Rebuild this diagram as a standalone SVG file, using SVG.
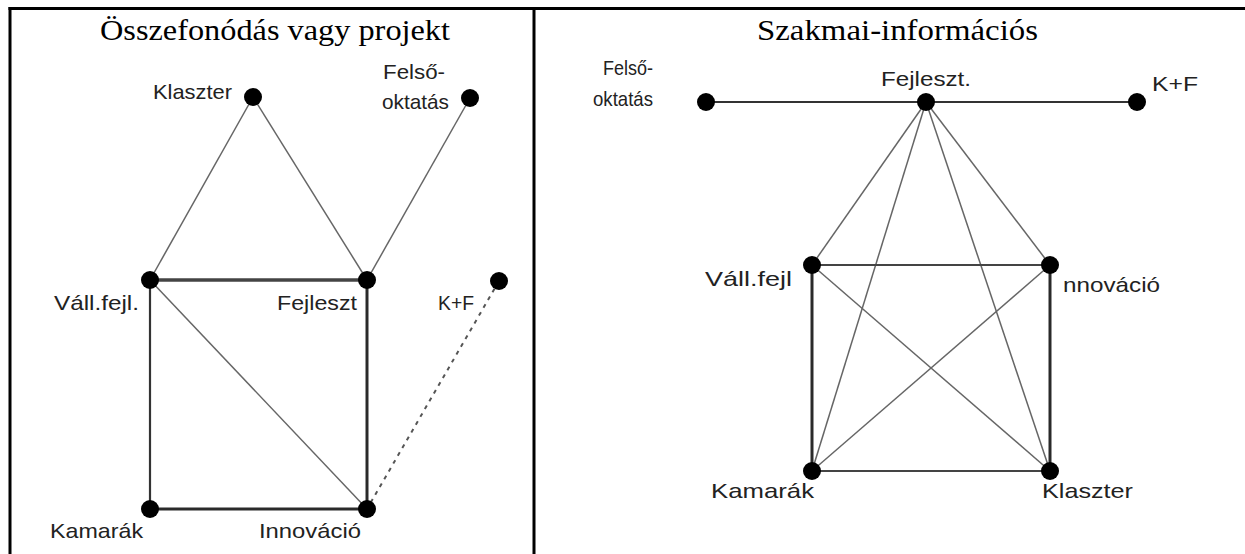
<svg xmlns="http://www.w3.org/2000/svg" width="1245" height="554" viewBox="0 0 1245 554">
<style>
.bg{fill:#fff}
.frame{stroke:#000;stroke-width:3;fill:none}
.title{font-family:"Liberation Serif","Times New Roman",serif;font-size:30px;fill:#000}
.lbl{font-family:"Liberation Sans",Arial,sans-serif;font-size:21px;fill:#222}
.dot{fill:#000}
.thick{stroke:#2a2a2a;stroke-width:3;fill:none}
.mid{stroke:#333;stroke-width:2.2;fill:none}
.thin{stroke:#666;stroke-width:1.5;fill:none}
.dash{stroke:#555;stroke-width:2;stroke-dasharray:4 5;fill:none}
</style>
<rect class="bg" x="0" y="0" width="1245" height="554"/>
<g id="frame">
<line class="frame" x1="8.5" y1="8.5" x2="1245" y2="8.5"/>
<line class="frame" x1="10" y1="7" x2="10" y2="554"/>
<line class="frame" x1="534" y1="7" x2="534" y2="554"/>
</g>
<g id="titles">
<text class="title" x="100" y="40" textLength="350" lengthAdjust="spacingAndGlyphs">Összefonódás vagy projekt</text>
<text class="title" x="757" y="40" textLength="281" lengthAdjust="spacingAndGlyphs">Szakmai-információs</text>
</g>
<g id="connectors">
<line class="thin" x1="253" y1="97" x2="150" y2="280"/>
<line class="thin" x1="253" y1="97" x2="367" y2="280"/>
<line class="thin" x1="470" y1="98" x2="367" y2="280"/>
<line class="thick" x1="150" y1="280" x2="367" y2="280" style="stroke:#444;stroke-width:3.5"/>
<line class="mid" x1="150" y1="280" x2="150" y2="509"/>
<line class="thick" x1="367" y1="280" x2="367" y2="509"/>
<line class="thick" x1="150" y1="509" x2="367" y2="509"/>
<line class="thin" x1="150" y1="280" x2="367" y2="509"/>
<line class="dash" x1="499" y1="281" x2="367" y2="509"/>
<line class="mid" x1="706" y1="102" x2="926" y2="102"/>
<line class="mid" x1="926" y1="102" x2="1137" y2="102"/>
<line class="thin" x1="926" y1="102" x2="812" y2="265"/>
<line class="thin" x1="926" y1="102" x2="1050" y2="265"/>
<line class="thin" x1="926" y1="102" x2="812" y2="471"/>
<line class="thin" x1="926" y1="102" x2="1050" y2="471"/>
<line class="mid" x1="812" y1="265" x2="1050" y2="265" style="stroke:#444"/>
<line class="thick" x1="812" y1="265" x2="812" y2="471"/>
<line class="thick" x1="1050" y1="265" x2="1050" y2="471"/>
<line class="mid" x1="812" y1="471" x2="1050" y2="471" style="stroke:#444"/>
<line class="thin" x1="812" y1="265" x2="1050" y2="471"/>
<line class="thin" x1="1050" y1="265" x2="812" y2="471"/>
</g>
<g id="L-klaszter"><circle class="dot" cx="253" cy="97" r="9"/><text class="lbl" x="153" y="99" textLength="79" lengthAdjust="spacingAndGlyphs">Klaszter</text></g>
<g id="L-felso"><circle class="dot" cx="470" cy="98" r="9"/><text class="lbl" x="383" y="79" textLength="62" lengthAdjust="spacingAndGlyphs">Felső-</text><text class="lbl" x="382" y="109" textLength="67" lengthAdjust="spacingAndGlyphs">oktatás</text></g>
<g id="L-vall"><circle class="dot" cx="150" cy="280" r="9"/><text class="lbl" x="54" y="310" textLength="85" lengthAdjust="spacingAndGlyphs">Váll.fejl.</text></g>
<g id="L-fejleszt"><circle class="dot" cx="367" cy="280" r="9"/><text class="lbl" x="277" y="310" textLength="80" lengthAdjust="spacingAndGlyphs">Fejleszt</text></g>
<g id="L-kf"><circle class="dot" cx="499" cy="281" r="9"/><text class="lbl" x="438" y="310" textLength="36" lengthAdjust="spacingAndGlyphs">K+F</text></g>
<g id="L-kamarak"><circle class="dot" cx="150" cy="509" r="9"/><text class="lbl" x="50" y="538" textLength="93" lengthAdjust="spacingAndGlyphs">Kamarák</text></g>
<g id="L-innovacio"><circle class="dot" cx="367" cy="509" r="9"/><text class="lbl" x="259" y="538" textLength="102" lengthAdjust="spacingAndGlyphs">Innováció</text></g>
<g id="R-felso"><circle class="dot" cx="706" cy="102" r="9"/><text class="lbl" x="603" y="75" textLength="50" lengthAdjust="spacingAndGlyphs">Felső-</text><text class="lbl" x="593" y="106" textLength="60" lengthAdjust="spacingAndGlyphs">oktatás</text></g>
<g id="R-fejleszt"><circle class="dot" cx="926" cy="102" r="9"/><text class="lbl" x="881" y="86" textLength="90" lengthAdjust="spacingAndGlyphs">Fejleszt.</text></g>
<g id="R-kf"><circle class="dot" cx="1137" cy="102" r="9"/><text class="lbl" x="1152" y="91" textLength="46" lengthAdjust="spacingAndGlyphs">K+F</text></g>
<g id="R-vall"><circle class="dot" cx="812" cy="265" r="9"/><text class="lbl" x="705" y="286" textLength="87" lengthAdjust="spacingAndGlyphs">Váll.fejl</text></g>
<g id="R-innovacio"><circle class="dot" cx="1050" cy="265" r="9"/><text class="lbl" x="1063" y="292" textLength="97" lengthAdjust="spacingAndGlyphs">nnováció</text></g>
<g id="R-kamarak"><circle class="dot" cx="812" cy="471" r="9"/><text class="lbl" x="711" y="498" textLength="103" lengthAdjust="spacingAndGlyphs">Kamarák</text></g>
<g id="R-klaszter"><circle class="dot" cx="1050" cy="471" r="9"/><text class="lbl" x="1042" y="498" textLength="91" lengthAdjust="spacingAndGlyphs">Klaszter</text></g>
</svg>
